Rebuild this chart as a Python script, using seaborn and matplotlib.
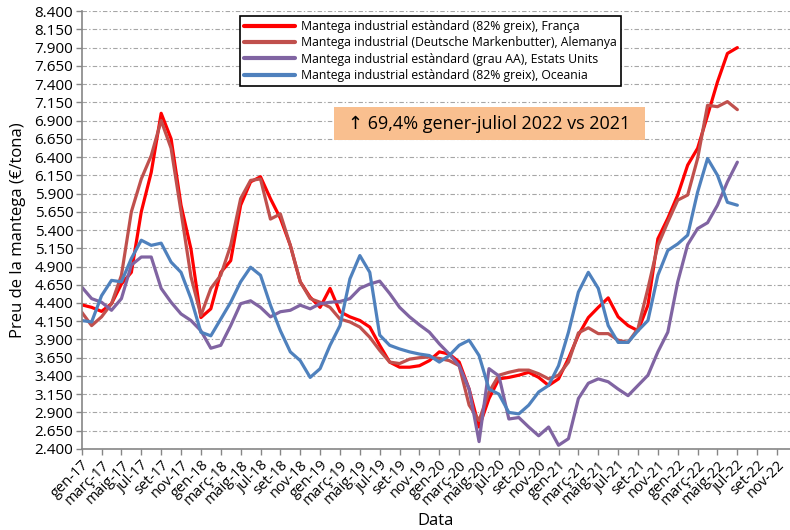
import matplotlib
matplotlib.use('Agg')
import matplotlib.pyplot as plt
from matplotlib.patches import Rectangle
from matplotlib.ticker import FuncFormatter, FixedLocator
import seaborn as sns
import pandas as pd

# monthly prices (EUR/tona), gen-17 .. jul-22
franca = [4375, 4340, 4285, 4390, 4660, 4820, 5650, 6190, 7000, 6650,
          5740, 5140, 4200, 4320, 4820, 4980, 5740, 6060, 6130, 5830,
          5560, 5190, 4690, 4480, 4340, 4600, 4280, 4210, 4160, 4070,
          3820, 3590, 3520, 3520, 3540, 3610, 3730, 3700, 3590, 3220,
          2700, 3090, 3360, 3380, 3410, 3450, 3380, 3270, 3360, 3640,
          3960, 4200, 4340, 4470, 4210, 4090, 4020, 4370, 5280, 5560,
          5880, 6290, 6520, 6970, 7430, 7820, 7900]
alemanya = [4275, 4090, 4210, 4390, 4780, 5650, 6100, 6420, 6900, 6520,
            5650, 4760, 4230, 4600, 4780, 5190, 5830, 6080, 6100, 5550,
            5620, 5190, 4690, 4460, 4410, 4340, 4180, 4140, 4070, 3930,
            3750, 3590, 3570, 3630, 3650, 3660, 3640, 3610, 3540, 3000,
            2790, 3180, 3410, 3450, 3480, 3480, 3430, 3360, 3410, 3590,
            3990, 4060, 3980, 3980, 3890, 3860, 4050, 4600, 5190, 5510,
            5810, 5880, 6380, 7110, 7090, 7160, 7050]
estats_units = [4620, 4460, 4410, 4300, 4460, 4920, 5030, 5030, 4600, 4410,
                4250, 4160, 4020, 3780, 3820, 4090, 4390, 4430, 4340, 4210,
                4280, 4300, 4370, 4320, 4390, 4410, 4420, 4460, 4600, 4660,
                4700, 4530, 4340, 4210, 4100, 4000, 3840, 3700, 3540, 3220,
                2500, 3500, 3400, 2810, 2830, 2700, 2580, 2700, 2450, 2540,
                3090, 3300, 3360, 3320, 3220, 3130, 3270, 3410, 3730, 4000,
                4690, 5200, 5420, 5500, 5740, 6060, 6330]
oceania = [4160, 4140, 4500, 4710, 4690, 5010, 5260, 5190, 5220, 4960,
           4820, 4460, 4000, 3950, 4180, 4410, 4690, 4890, 4780, 4370,
           4020, 3730, 3610, 3380, 3500, 3820, 4090, 4730, 5050, 4820,
           3960, 3820, 3770, 3730, 3700, 3680, 3590, 3680, 3820, 3890,
           3680, 3220, 3150, 2900, 2880, 3000, 3180, 3270, 3540, 4000,
           4550, 4820, 4600, 4090, 3860, 3860, 4020, 4160, 4780, 5120,
           5210, 5330, 5920, 6380, 6150, 5780, 5740]

series_names = ['Mantega industrial estàndard (82% greix), França',
                'Mantega industrial (Deutsche Markenbutter), Alemanya',
                'Mantega industrial estàndard (grau AA), Estats Units',
                'Mantega industrial estàndard (82% greix), Oceania']
series_colors = ['#FF0000', '#C0504D', '#8064A2', '#4F81BD']

month_names = ['gen', 'març', 'maig', 'jul', 'set', 'nov']
years = ['17', '18', '19', '20', '21', '22']
tick_labels = [f'{m}-{y}' for y in years for m in month_names]

df = pd.DataFrame({
    'mes': list(range(len(franca))) * 4,
    'preu': franca + alemanya + estats_units + oceania,
    'serie': sum([[n] * len(franca) for n in series_names], []),
})

sns.set_theme(style='white')
plt.rcParams['font.family'] = ['Open Sans', 'DejaVu Sans']
plt.rcParams['text.color'] = 'black'
plt.rcParams['axes.labelcolor'] = 'black'
plt.rcParams['xtick.color'] = 'black'
plt.rcParams['ytick.color'] = 'black'

fig = plt.figure(figsize=(7.9, 5.3), dpi=100)
ax = fig.add_axes([0.1034, 0.153, 0.8966, 0.826])

sns.lineplot(data=df, x='mes', y='preu', hue='serie', hue_order=series_names,
             palette=series_colors, linewidth=2.3, ax=ax, legend=True)
for line in ax.get_lines():
    line.set_solid_joinstyle('round')
    line.set_solid_capstyle('round')

# axes
ax.set_xlim(0, 71.3)
ax.set_ylim(2400, 8400)
ax.yaxis.set_major_locator(FixedLocator(range(2400, 8401, 250)))
ax.yaxis.set_major_formatter(FuncFormatter(lambda v, p: f'{int(v):,}'.replace(',', '.')))
ax.set_xticks(range(0, 2 * len(tick_labels), 2))
ax.set_xticklabels(tick_labels, rotation=45, ha='right', rotation_mode='anchor')
ax.tick_params(axis='both', which='major', direction='out', length=4,
               width=1, color='#868686', labelcolor='black', left=True, bottom=True)
ax.tick_params(axis='x', pad=2, labelsize=10.5)
ax.tick_params(axis='y', pad=2, labelsize=11)

ax.grid(axis='y', color='#A6A6A6', linewidth=0.8,
        linestyle=(0, (4, 2, 1.2, 2)))
ax.grid(axis='x', visible=False)
for side in ['top', 'right']:
    ax.spines[side].set_visible(False)
for side in ['left', 'bottom']:
    ax.spines[side].set_color('#868686')
    ax.spines[side].set_linewidth(1.2)

ax.set_xlabel('Data', fontsize=12, color='black')
ax.set_ylabel('Preu de la mantega (€/tona)', fontsize=12, labelpad=6, color='black')

# legend
handles, labels = ax.get_legend_handles_labels()
leg = ax.legend(handles, labels, loc='upper left',
                bbox_to_anchor=(0.2235, 0.9886), fontsize=8.8,
                frameon=True, fancybox=False, edgecolor='black',
                framealpha=1, borderpad=0.3, labelspacing=0.28,
                handlelength=4.2, handletextpad=0.5, borderaxespad=0)
leg.get_frame().set_linewidth(1.2)
for t in leg.get_texts():
    t.set_color('black')
for h in leg.get_lines():
    h.set_linewidth(3)

# annotation box
ax.add_patch(Rectangle((0.356, 0.7055), 0.439, 0.0753, transform=ax.transAxes,
                       facecolor='#F9BF8F', edgecolor='none', zorder=3))
ax.text(0.5758, 0.743, '↑ 69,4% gener-juliol 2022 vs 2021',
        transform=ax.transAxes, ha='center', va='center', fontsize=13,
        color='black', zorder=4)

fig.savefig('out.png', dpi=100)
